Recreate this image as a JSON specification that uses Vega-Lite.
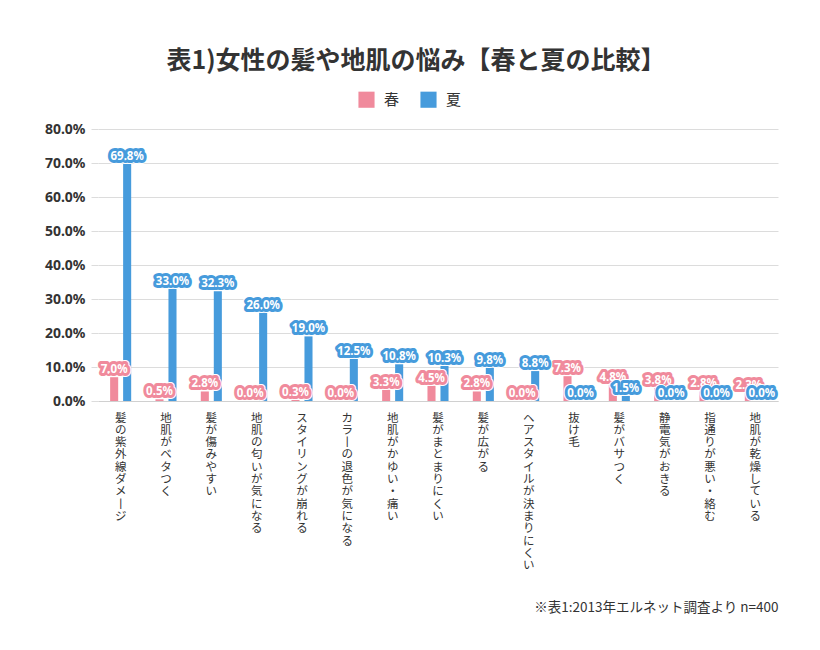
{
  "$schema": "https://vega.github.io/schema/vega-lite/v6.json",
  "width": 680,
  "height": 272,
  "autosize": {"type": "none"},
  "padding": {"left": 98, "top": 129, "right": 42, "bottom": 249},
  "background": "white",
  "title": {
    "text": "表1)女性の髪や地肌の悩み【春と夏の比較】",
    "font": "Noto Sans CJK JP",
    "fontSize": 25,
    "fontWeight": "bold",
    "color": "#333333",
    "anchor": "middle",
    "dx": -22,
    "offset": 17
  },
  "config": {
    "view": {"stroke": null},
    "font": "Noto Sans CJK JP"
  },
  "data": {
    "values": [
      {"item": "髪の紫外線ダメージ", "season": "春", "value": 0.070},
      {"item": "髪の紫外線ダメージ", "season": "夏", "value": 0.698},
      {"item": "地肌がベタつく", "season": "春", "value": 0.005},
      {"item": "地肌がベタつく", "season": "夏", "value": 0.330},
      {"item": "髪が傷みやすい", "season": "春", "value": 0.028},
      {"item": "髪が傷みやすい", "season": "夏", "value": 0.323},
      {"item": "地肌の匂いが気になる", "season": "春", "value": 0.000},
      {"item": "地肌の匂いが気になる", "season": "夏", "value": 0.260},
      {"item": "スタイリングが崩れる", "season": "春", "value": 0.003},
      {"item": "スタイリングが崩れる", "season": "夏", "value": 0.190},
      {"item": "カラーの退色が気になる", "season": "春", "value": 0.000},
      {"item": "カラーの退色が気になる", "season": "夏", "value": 0.125},
      {"item": "地肌がかゆい・痛い", "season": "春", "value": 0.033},
      {"item": "地肌がかゆい・痛い", "season": "夏", "value": 0.108},
      {"item": "髪がまとまりにくい", "season": "春", "value": 0.045},
      {"item": "髪がまとまりにくい", "season": "夏", "value": 0.103},
      {"item": "髪が広がる", "season": "春", "value": 0.028},
      {"item": "髪が広がる", "season": "夏", "value": 0.098},
      {"item": "ヘアスタイルが決まりにくい", "season": "春", "value": 0.000},
      {"item": "ヘアスタイルが決まりにくい", "season": "夏", "value": 0.088},
      {"item": "抜け毛", "season": "春", "value": 0.073},
      {"item": "抜け毛", "season": "夏", "value": 0.000},
      {"item": "髪がバサつく", "season": "春", "value": 0.048},
      {"item": "髪がバサつく", "season": "夏", "value": 0.015},
      {"item": "静電気がおきる", "season": "春", "value": 0.038},
      {"item": "静電気がおきる", "season": "夏", "value": 0.000},
      {"item": "指通りが悪い・絡む", "season": "春", "value": 0.028},
      {"item": "指通りが悪い・絡む", "season": "夏", "value": 0.000},
      {"item": "地肌が乾燥している", "season": "春", "value": 0.023},
      {"item": "地肌が乾燥している", "season": "夏", "value": 0.000}
    ]
  },
  "encoding": {
    "x": {
      "field": "item",
      "type": "nominal",
      "sort": null,
      "scale": {"paddingInner": 0.4265, "paddingOuter": 0.213},
      "axis": {
        "title": "※表1:2013年エルネット調査より n=400",
        "titleAnchor": "end",
        "titleFont": "Noto Sans CJK JP",
        "titleFontWeight": "normal",
        "titleFontSize": 13.5,
        "titleColor": "#333333",
        "titleBaseline": "middle",
        "titleY": 206,
        "labelAngle": 0,
        "labelExpr": "split(replace(datum.value, 'ー', '丨'), '')",
        "labelBaseline": "top",
        "labelAlign": "center",
        "labelFont": "Noto Sans CJK JP",
        "labelFontSize": 11.5,
        "labelLineHeight": 12.3,
        "labelPadding": 11,
        "labelColor": "#333333",
        "labelOverlap": false,
        "labelBound": false,
        "labelLimit": 0,
        "ticks": false,
        "grid": false,
        "domainColor": "#d0d0d0"
      }
    },
    "xOffset": {
      "field": "season",
      "type": "nominal",
      "scale": {"domain": ["春", "夏"], "paddingInner": 0.38, "paddingOuter": 0.19}
    },
    "y": {
      "field": "value",
      "type": "quantitative",
      "scale": {"domain": [0, 0.8], "nice": false},
      "axis": {
        "title": null,
        "format": ".1%",
        "values": [0, 0.1, 0.2, 0.3, 0.4, 0.5, 0.6, 0.7, 0.8],
        "domain": false,
        "tickSize": 7,
        "tickColor": "#dcdcdc",
        "gridColor": "#dcdcdc",
        "labelFont": "Noto Sans",
        "labelFontWeight": "bold",
        "labelFontSize": 14,
        "labelColor": "#333333",
        "labelPadding": 6
      }
    }
  },
  "layer": [
    {
      "mark": {"type": "bar"},
      "encoding": {
        "color": {
          "field": "season",
          "type": "nominal",
          "scale": {"domain": ["春", "夏"], "range": ["#f08a9c", "#469bdc"]},
          "legend": {
            "title": null,
            "orient": "none",
            "direction": "horizontal",
            "legendX": 260,
            "legendY": -38,
            "padding": 0,
            "symbolType": "square",
            "symbolSize": 260,
            "symbolStrokeWidth": 0,
            "symbolOpacity": 1,
            "labelFont": "Noto Sans CJK JP",
            "labelFontSize": 15,
            "labelColor": "#333333",
            "labelOffset": 9,
            "columnPadding": 20
          }
        }
      }
    },
    {
      "transform": [{"filter": "datum.season === '春'"}],
      "mark": {"type": "text", "font": "Noto Sans", "fontSize": 11.5, "fontWeight": "bold", "baseline": "middle", "dy": -7, "fill": "white", "stroke": "white", "strokeWidth": 8, "strokeJoin": "round"},
      "encoding": {"text": {"field": "value", "type": "quantitative", "format": ".1%"}}
    },
    {
      "transform": [{"filter": "datum.season === '春'"}],
      "mark": {"type": "text", "font": "Noto Sans", "fontSize": 11.5, "fontWeight": "bold", "baseline": "middle", "dy": -7, "fill": "#f08a9c", "stroke": "#f08a9c", "strokeWidth": 6, "strokeJoin": "round"},
      "encoding": {"text": {"field": "value", "type": "quantitative", "format": ".1%"}}
    },
    {
      "transform": [{"filter": "datum.season === '春'"}],
      "mark": {"type": "text", "font": "Noto Sans", "fontSize": 11.5, "fontWeight": "bold", "baseline": "middle", "dy": -7, "fill": "white"},
      "encoding": {"text": {"field": "value", "type": "quantitative", "format": ".1%"}}
    },
    {
      "transform": [{"filter": "datum.season === '夏'"}],
      "mark": {"type": "text", "font": "Noto Sans", "fontSize": 11.5, "fontWeight": "bold", "baseline": "middle", "dy": -7, "fill": "white", "stroke": "white", "strokeWidth": 8, "strokeJoin": "round"},
      "encoding": {"text": {"field": "value", "type": "quantitative", "format": ".1%"}}
    },
    {
      "transform": [{"filter": "datum.season === '夏'"}],
      "mark": {"type": "text", "font": "Noto Sans", "fontSize": 11.5, "fontWeight": "bold", "baseline": "middle", "dy": -7, "fill": "#469bdc", "stroke": "#469bdc", "strokeWidth": 6, "strokeJoin": "round"},
      "encoding": {"text": {"field": "value", "type": "quantitative", "format": ".1%"}}
    },
    {
      "transform": [{"filter": "datum.season === '夏'"}],
      "mark": {"type": "text", "font": "Noto Sans", "fontSize": 11.5, "fontWeight": "bold", "baseline": "middle", "dy": -7, "fill": "white"},
      "encoding": {"text": {"field": "value", "type": "quantitative", "format": ".1%"}}
    }
  ]
}
